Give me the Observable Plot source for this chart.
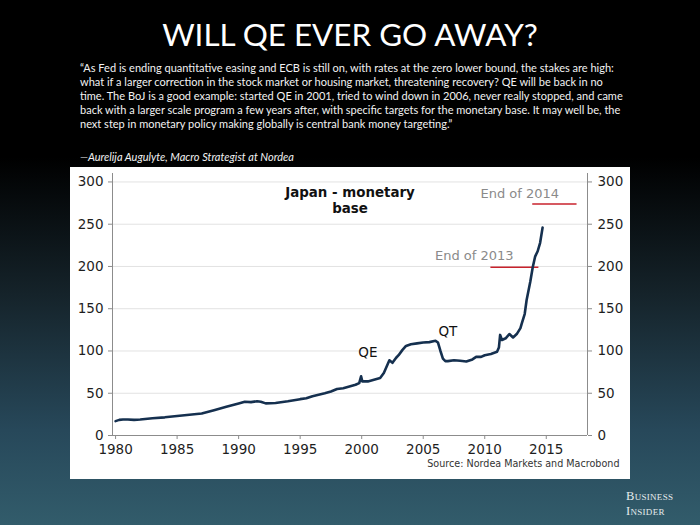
<!DOCTYPE html>
<html>
<head>
<meta charset="utf-8">
<script src="https://cdn.jsdelivr.net/npm/d3@7"></script>
<script src="https://cdn.jsdelivr.net/npm/@observablehq/plot@0.6"></script>
<style>
  html, body { margin: 0; padding: 0; }
  body {
    width: 700px; height: 525px; overflow: hidden; position: relative;
    background: linear-gradient(to bottom, #000 0%, #000 30%, #15232a 56%, #27485a 82%, #325c6b 100%);
    font-family: Lato, "Open Sans", sans-serif;
  }
  #title { position: absolute; left: 0; width: 700px; top: 14px; text-align: center; color: #fff;
    font-family: Lato, sans-serif; font-size: 30.5px; line-height: 40px; white-space: nowrap; }
  #quote { position: absolute; left: 80px; top: 61px; color: #f2f2f2; font-size: 10.5px; line-height: 14px; white-space: nowrap; }
  #attr { position: absolute; left: 80px; top: 150px; color: #f2f2f2; font-size: 10.5px; line-height: 14px; font-style: italic; white-space: nowrap; }
  #panel { position: absolute; left: 70px; top: 167px; width: 560px; height: 312px; background: #fff; }
  #logo { position: absolute; left: 626px; top: 489px; color: #e6ecee; font-family: "Liberation Serif", "DejaVu Serif", serif;
    font-variant: small-caps; font-size: 12.5px; line-height: 14.5px; letter-spacing: 0.3px; }
  #logo div { height: 14.5px; }
</style>
</head>
<body>
<div id="title">WILL QE EVER GO AWAY?</div>
<div id="quote"></div>
<div id="attr">—Aurelija Augulyte, Macro Strategist at Nordea</div>
<div id="panel"></div>
<div id="logo"><div>Business</div><div>Insider</div></div>
<script>
// ---- data ----
const years = [1980.0, 1980.3, 1980.6, 1981.0, 1981.5, 1982.0, 1983.0, 1984.0, 1985.0, 1986.0, 1987.0,
  1988.0, 1989.0, 1990.0, 1990.5, 1991.0, 1991.5, 1991.8, 1992.2, 1993.0, 1994.0, 1995.0, 1995.5,
  1996.0, 1997.0, 1997.5, 1998.0, 1998.5, 1999.0, 1999.5, 1999.8, 1999.95, 2000.05, 2000.5, 2001.0,
  2001.5, 2001.8, 2002.1, 2002.25, 2002.5, 2002.8, 2003.0, 2003.3, 2003.6, 2004.0, 2004.5, 2005.0,
  2005.5, 2006.0, 2006.2, 2006.4, 2006.6, 2006.8, 2007.0, 2007.5, 2008.0, 2008.5, 2009.0, 2009.3,
  2009.7, 2010.0, 2010.5, 2011.0, 2011.15, 2011.25, 2011.4, 2011.7, 2012.0, 2012.3, 2012.6, 2012.9,
  2013.0, 2013.25, 2013.4, 2013.7, 2013.9, 2014.1, 2014.3, 2014.5, 2014.7];
const base = [17, 18.5, 19, 19, 18.5, 19, 20.5, 21.5, 23, 24.5, 26,
  30, 34, 38, 40, 39.5, 40.5, 40, 38, 38.5, 40.5, 43, 44,
  46.5, 50, 52, 55, 56, 58, 60, 62, 70, 64, 64, 66,
  68, 74, 84, 89, 86, 92, 95, 101, 106, 108, 109, 110,
  110.5, 112, 110, 100, 91, 88, 88, 89, 88.5, 87.5, 90, 93,
  93, 95, 96.5, 99, 104, 119, 113, 115, 120, 116, 120, 127,
  132, 144, 160, 182, 199, 212, 218, 228, 246];

const yTicks = [0, 50, 100, 150, 200, 250, 300];
const xTicks = [1980, 1985, 1990, 1995, 2000, 2005, 2010, 2015];
const xDomain = [1979.75, 2018.35];
const yDomain = [0, 310];

// annotations
const phaseLabels = ["QE", "QT"];
const phaseYears = [2000.5, 2007.0];
const phaseValues = [98, 123];

const targetLabels = ["End of 2014", "End of 2013"];
const targetTextYears = [2012.85, 2009.15];
const targetTextValues = [286, 212.5];
const targetValues = [274, 199];
const targetFrom = [2013.9, 2010.5];
const targetTo = [2017.5, 2014.4];

const chartTitle = ["Japan - monetary", "base"];
const sourceText = "Source: Nordea Markets and Macrobond";

const quoteLines = [
  "“As Fed is ending quantitative easing and ECB is still on, with rates at the zero lower bound, the stakes are high:",
  "what if a larger correction in the stock market or housing market, threatening recovery? QE will be back in no",
  "time. The BoJ is a good example: started QE in 2001, tried to wind down in 2006, never really stopped, and came",
  "back with a larger scale program a few years after, with specific targets for the monetary base. It may well be, the",
  "next step in monetary policy making globally is central bank money targeting.”"
];

// ---- text header ----
const q = document.getElementById("quote");
q.innerHTML = quoteLines.map(l => `<span>${l}</span>`).join("<br>");
// fit font size so line 4 spans ~541px
const span4 = q.querySelectorAll("span")[3];
const w4 = span4.getBoundingClientRect().width;
const fs = 10.5 * 541 / w4;
q.style.fontSize = fs + "px";
document.getElementById("attr").style.fontSize = fs + "px";
// fit title to ~376px
const t = document.getElementById("title");
const tspan = document.createElement("span"); tspan.textContent = t.textContent; t.textContent = ""; t.appendChild(tspan);
const tw = tspan.getBoundingClientRect().width;
t.style.fontSize = (30.5 * 376 / tw) + "px";

// ---- chart ----
const data = years.map((y, i) => ({year: y, value: base[i]}));
const phases = phaseLabels.map((l, i) => ({label: l, year: phaseYears[i], value: phaseValues[i]}));
const targets = targetLabels.map((l, i) => ({label: l, tx: targetTextYears[i], ty: targetTextValues[i], v: targetValues[i], x1: targetFrom[i], x2: targetTo[i]}));

const chart = Plot.plot({
  width: 560, height: 312,
  marginLeft: 42, marginRight: 43, marginTop: 6, marginBottom: 44,
  x: {domain: xDomain},
  y: {domain: yDomain},
  style: {background: "white", fontFamily: "DejaVu Sans, Verdana, sans-serif", color: "#1e1e1e", overflow: "visible"},
  marks: [
    Plot.gridY(yTicks, {stroke: "#e2e2e2", strokeOpacity: 1, strokeWidth: 1}),
    Plot.axisY(yTicks, {anchor: "left", tickSize: 4, tickPadding: 5, stroke: "#8c8c8c", fontSize: 13.5, label: null}),
    Plot.axisY(yTicks, {anchor: "right", tickSize: 4, tickPadding: 6, stroke: "#8c8c8c", fontSize: 13.5, label: null, textAnchor: "start"}),
    Plot.axisX(xTicks, {anchor: "bottom", tickSize: 4, tickPadding: 5, stroke: "#8c8c8c", fontSize: 13.5, label: null, tickFormat: d => String(d)}),
    Plot.ruleX([xDomain[0], xDomain[1]], {stroke: "#8c8c8c", strokeWidth: 1}),
    Plot.ruleY([yDomain[0]], {stroke: "#8c8c8c", strokeWidth: 1}),
    Plot.ruleY(targets, {y: "v", x1: "x1", x2: "x2", stroke: "#c8222c", strokeWidth: 1.6}),
    Plot.text(targets, {x: "tx", y: "ty", text: "label", fill: "#8a8a8a", fontSize: 13, fontFamily: "DejaVu Sans, sans-serif"}),
    Plot.line(data, {x: "year", y: "value", stroke: "#15304f", strokeWidth: 2.6, strokeLinejoin: "round"}),
    Plot.text(phases, {x: "year", y: "value", text: "label", fill: "#111", fontSize: 13.5}),
    Plot.text([chartTitle.join("\n")], {frameAnchor: "top", dy: 13, text: d => d, fontWeight: "bold", fontSize: 13.4, lineHeight: 1.15, fill: "#111", lineAnchor: "top"}),
    Plot.text([sourceText], {frameAnchor: "bottom-right", dx: 32, dy: 31, text: d => d, fontSize: 9.6, fill: "#333", textAnchor: "end"})
  ]
});
document.getElementById("panel").appendChild(chart);
</script>
</body>
</html>
